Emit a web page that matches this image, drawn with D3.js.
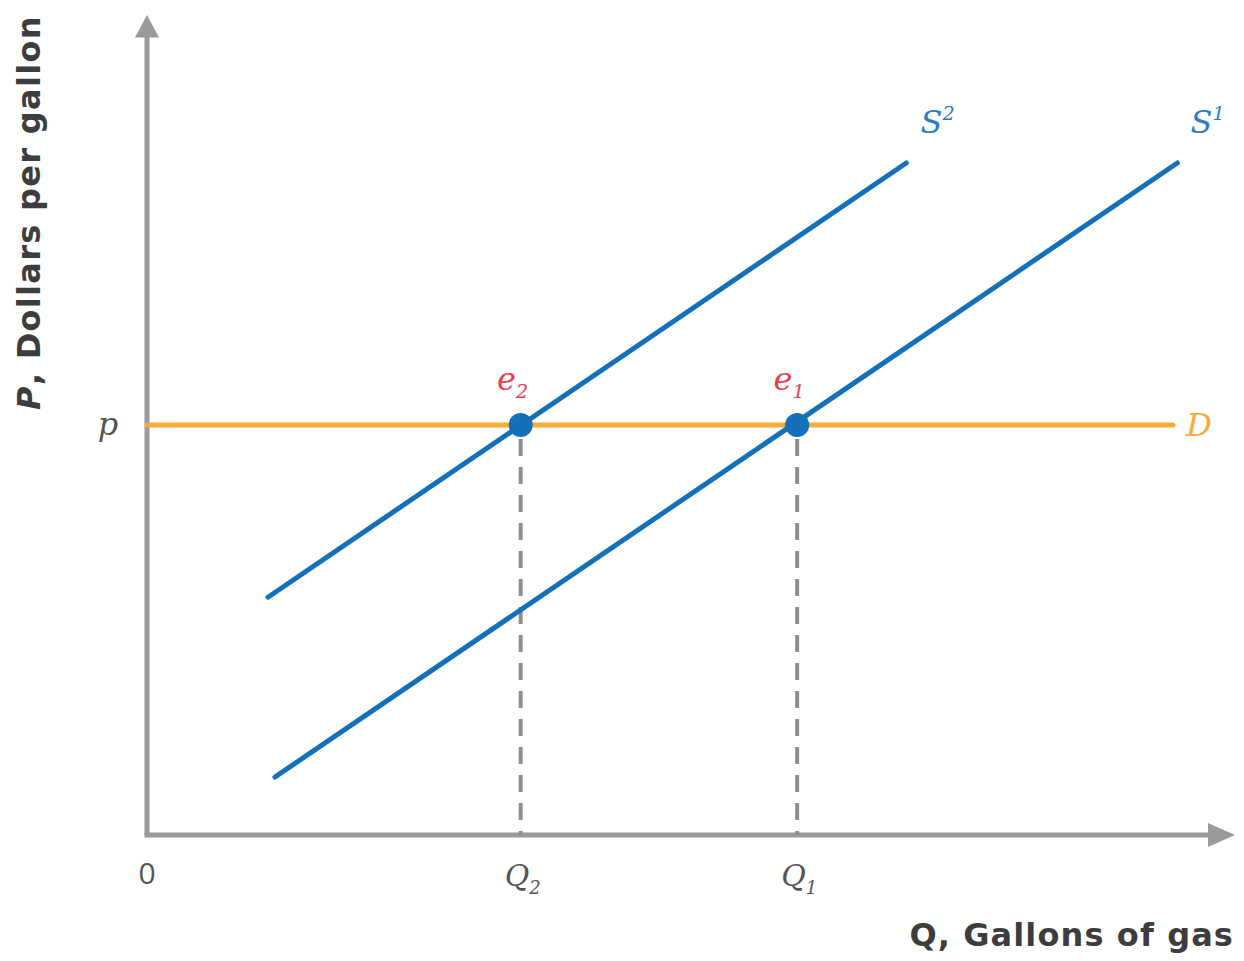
<!DOCTYPE html>
<html><head><meta charset="utf-8">
<script src="https://cdn.jsdelivr.net/npm/d3@7"></script>
<style>body{margin:0;background:#fff}svg{display:block}</style>
</head><body>
<svg id="chart" width="1244" height="961"></svg>
<script>
// Data (units on 0..100 axes)
const priceLevel = 50;                 // p
const quantities = [{name:"Q", sub:"2", q:34.6}, {name:"Q", sub:"1", q:60.2}];
const supply1 = [[11.85, 7.07], [95.4, 81.95]];
const supply2 = [[11.2, 29.0], [70.3, 81.95]];
const demand = [[0, 50], [95.0, 50]];
const equilibria = [{name:"e", sub:"2", q:34.6, p:50}, {name:"e", sub:"1", q:60.2, p:50}];
const curveLabels = [{name:"S", sup:"2", q:73.2, p:85.6}, {name:"S", sup:"1", q:98.2, p:85.6}];

const svg = d3.select("#chart");
const x = d3.scaleLinear().domain([0, 100]).range([147, 1227]);
const y = d3.scaleLinear().domain([0, 100]).range([835, 15]);

const blue = "#1470b8", orange = "#f9ab3a", red = "#e8414b", gray = "#9a9a9a", dark = "#3d3d3d";
const serif = "'DejaVu Serif', serif";
const sans = "'DejaVu Sans', sans-serif";

// axes
svg.append("line").attr("x1", x(0)).attr("y1", y(0)).attr("x2", x(0)).attr("y2", y(97.5))
  .attr("stroke", gray).attr("stroke-width", 5);
svg.append("line").attr("x1", x(0)-2.5).attr("y1", y(0)).attr("x2", 1212).attr("y2", y(0))
  .attr("stroke", gray).attr("stroke-width", 5);
svg.append("path").attr("d", `M${x(0)-12},${y(97.5)+2} L${x(0)},15 L${x(0)+12},${y(97.5)+2} Z`).attr("fill", gray);
svg.append("path").attr("d", `M1208,${y(0)-12} L1235,${y(0)} L1208,${y(0)+12} Z`).attr("fill", gray);

// dashed drop lines
svg.selectAll(".drop").data(quantities).join("line")
  .attr("x1", d => x(d.q)).attr("x2", d => x(d.q))
  .attr("y1", y(priceLevel)+14).attr("y2", y(0))
  .attr("stroke", "#8f8f8f").attr("stroke-width", 4).attr("stroke-dasharray", "17,11");

const line = d3.line().x(d => x(d[0])).y(d => y(d[1]));
svg.append("path").attr("d", line(demand)).attr("stroke", orange).attr("stroke-width", 5)
  .attr("fill", "none").attr("stroke-linecap", "round");
[supply1, supply2].forEach(s => svg.append("path").attr("d", line(s)).attr("stroke", blue)
  .attr("stroke-width", 5).attr("fill", "none").attr("stroke-linecap", "round"));

svg.selectAll(".eq").data(equilibria).join("circle")
  .attr("cx", d => x(d.q)).attr("cy", d => y(d.p)).attr("r", 12).attr("fill", blue);

// labels
function subLabel(g, d, color, size, key, shift) {
  const t = g.append("text").attr("x", d.x).attr("y", d.y).attr("text-anchor", "middle")
    .attr("font-family", serif).attr("font-style", "italic").attr("font-size", size).attr("fill", color);
  t.append("tspan").text(d.name);
  t.append("tspan").attr("font-size", size*0.6).attr("dy", shift).text(d[key]);
}
equilibria.forEach(d => subLabel(svg, {name:d.name, sub:d.sub, x:x(d.q)-8, y:390}, red, 32, "sub", 8));
quantities.forEach(d => subLabel(svg, {name:d.name, sub:d.sub, x:x(d.q)+2, y:886}, "#555", 30, "sub", 8));
curveLabels.forEach(d => subLabel(svg, {name:d.name, sup:d.sup, x:x(d.q), y:y(d.p)}, "#2a7dc4", 32, "sup", -13));

svg.append("text").attr("x", 1199).attr("y", y(priceLevel)+11).attr("text-anchor", "middle")
  .attr("font-family", serif).attr("font-style", "italic").attr("font-size", 32).attr("fill", orange).text("D");
svg.append("text").attr("x", 108).attr("y", y(priceLevel)+10).attr("text-anchor", "middle")
  .attr("font-family", serif).attr("font-style", "italic").attr("font-size", 32).attr("fill", "#555").text("p");
svg.append("text").attr("x", 147).attr("y", 884).attr("text-anchor", "middle")
  .attr("font-family", "'Open Sans', sans-serif").attr("font-size", 30).attr("fill", "#555").text("0");

// axis titles
const xt = svg.append("text").attr("x", 1234).attr("y", 946).attr("text-anchor", "end")
  .attr("font-family", sans).attr("font-weight", 700).attr("font-size", 32).attr("letter-spacing", 1.1).attr("fill", dark);
xt.append("tspan").text("Q");
xt.append("tspan").text(", Gallons of gas");
const yt = svg.append("text").attr("transform", "translate(40,410) rotate(-90)").attr("text-anchor", "start")
  .attr("font-family", sans).attr("font-weight", 700).attr("font-size", 32).attr("letter-spacing", 1.3).attr("fill", dark);
yt.append("tspan").attr("font-style", "italic").text("P");
yt.append("tspan").text(", Dollars per gallon");
</script>
</body></html>
